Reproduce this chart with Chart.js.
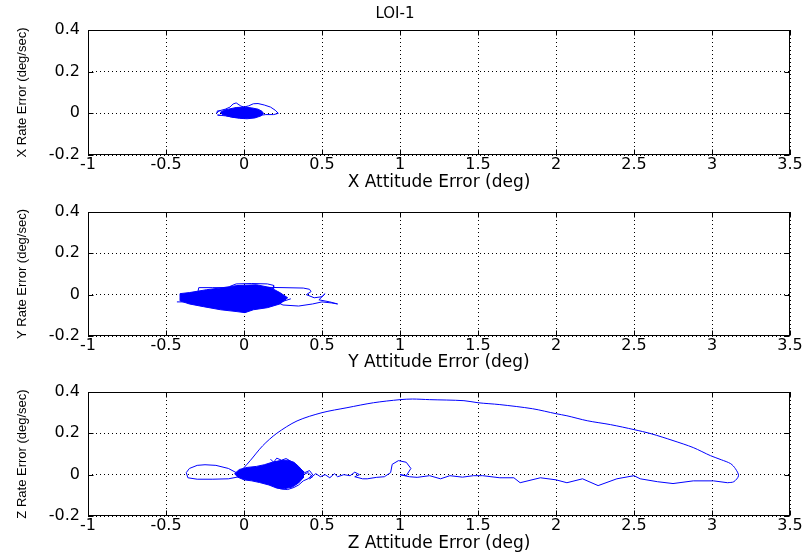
<!DOCTYPE html>
<html>
<head>
<meta charset="utf-8">
<script src="https://cdn.jsdelivr.net/npm/chart.js@4/dist/chart.umd.min.js"></script>
<style>
  html, body { margin: 0; padding: 0; background: #fff; }
  #wrap { position: relative; width: 806px; height: 553px; overflow: hidden; }
  canvas { position: absolute; left: 0; }
</style>
</head>
<body>
<div id="wrap">
  <canvas id="cx" width="806" height="192" style="top:0px"></canvas>
  <canvas id="cy" width="806" height="192" style="top:180px"></canvas>
  <canvas id="cz" width="806" height="193" style="top:360px"></canvas>
</div>
<script>
// ---------- Tick labels ----------
const attTicks = [-1, -0.5, 0, 0.5, 1, 1.5, 2, 2.5, 3, 3.5];
const rateTicks = [-0.2, 0, 0.2, 0.4];

// ---------- X axis phase plane ----------
const xBlobAtt  = [-0.15, -0.13, -0.10, -0.05, 0.00, 0.05, 0.09, 0.115, 0.125, 0.11, 0.07, 0.02, -0.03, -0.08, -0.12, -0.14, -0.15];
const xBlobRate = [0.005, 0.015, 0.02, 0.028, 0.03, 0.026, 0.02, 0.01, 0.0, -0.012, -0.022, -0.026, -0.024, -0.018, -0.01, -0.005, 0.005];
const xLoopAtt  = [-0.15, -0.17, -0.175, -0.16, -0.12, -0.09, -0.07, -0.05, -0.02, 0.00, 0.03, 0.06, 0.09, 0.13, 0.17, 0.20, 0.22, 0.19, 0.14, 0.10, 0.05, 0.0, -0.06, -0.12, -0.17, -0.15];
const xLoopRate = [0.012, 0.012, 0.0, 0.012, 0.02, 0.03, 0.045, 0.05, 0.035, 0.03, 0.036, 0.046, 0.047, 0.04, 0.03, 0.015, 0.0, -0.006, -0.006, -0.01, -0.015, -0.02, -0.02, -0.012, -0.008, -0.01];

// ---------- Y axis phase plane ----------
const yBlobAtt  = [-0.41, -0.35, -0.24, -0.135, -0.045, 0.08, 0.17, 0.23, 0.28, 0.23, 0.15, 0.06, 0.006, -0.045, -0.15, -0.26, -0.35, -0.41, -0.41];
const yBlobRate = [0.005, 0.01, 0.024, 0.034, 0.044, 0.048, 0.034, 0.01, -0.015, -0.045, -0.063, -0.073, -0.087, -0.082, -0.073, -0.058, -0.045, -0.03, 0.005];
const yOuterAtt  = [-0.43, -0.38, -0.30, -0.29, -0.20, -0.05, 0.10, 0.25, 0.38, 0.42, 0.43, 0.40, 0.45, 0.50, 0.52, 0.48, 0.55, 0.60, 0.56, 0.50, 0.44, 0.35, 0.25, 0.22, 0.30];
const yOuterRate = [-0.035, -0.035, -0.005, 0.034, 0.034, 0.034, 0.036, 0.034, 0.032, 0.026, 0.015, 0.0, -0.015, -0.01, 0.005, -0.025, -0.035, -0.045, -0.04, -0.035, -0.045, -0.055, -0.05, -0.04, -0.02];
const yArchAtt  = [-0.09, -0.05, 0.05, 0.15, 0.19, 0.19, 0.15];
const yArchRate = [0.04, 0.052, 0.054, 0.052, 0.045, 0.03, 0.02];

// ---------- Z axis phase plane ----------
const zBlobAtt  = [-0.06, -0.03, 0.02, 0.08, 0.13, 0.18, 0.23, 0.28, 0.32, 0.35, 0.38, 0.38, 0.35, 0.31, 0.26, 0.21, 0.16, 0.10, 0.05, 0.0, -0.04, -0.06];
const zBlobRate = [0.005, 0.025, 0.035, 0.04, 0.048, 0.06, 0.068, 0.07, 0.06, 0.04, 0.015, -0.015, -0.04, -0.06, -0.068, -0.065, -0.05, -0.038, -0.03, -0.025, -0.012, 0.005];
const zFringeAtt  = [0.17, 0.19, 0.21, 0.24, 0.27, 0.30, 0.33, 0.36, 0.39, 0.42, 0.44, 0.41, 0.38, 0.35, 0.32, 0.28, 0.24, 0.20];
const zFringeRate = [0.075, 0.06, 0.08, 0.07, 0.078, 0.065, 0.05, 0.03, 0.01, 0.02, 0.0, -0.02, -0.03, -0.05, -0.062, -0.072, -0.07, -0.06];
const zLeftAtt  = [-0.05, -0.10, -0.18, -0.25, -0.30, -0.35, -0.37, -0.36, -0.30, -0.20, -0.10, -0.03];
const zLeftRate = [0.01, 0.03, 0.045, 0.048, 0.045, 0.03, 0.01, -0.015, -0.022, -0.022, -0.02, -0.01];
const zTrailAtt  = [0.38, 0.41, 0.44, 0.42, 0.46, 0.49, 0.52, 0.55, 0.58, 0.60, 0.64, 0.68, 0.71, 0.74, 0.71, 0.76, 0.79, 0.85, 0.90, 0.94, 0.95, 0.99, 1.04, 1.07, 1.04, 1.00, 1.06, 1.11, 1.19, 1.26, 1.32, 1.40, 1.47, 1.53, 1.64, 1.73, 1.77, 1.90, 2.00, 2.07, 2.17, 2.27, 2.39, 2.50, 2.54, 2.65, 2.75, 2.88, 3.01, 3.10];
const zTrailRate = [0.0, 0.01, -0.01, -0.02, 0.005, -0.01, 0.0, -0.015, 0.005, -0.01, 0.0, -0.005, 0.012, 0.0, -0.01, -0.02, -0.02, -0.013, -0.01, 0.01, 0.05, 0.068, 0.06, 0.03, -0.005, 0.0, -0.01, -0.013, -0.005, -0.02, -0.005, -0.012, -0.005, -0.005, -0.015, -0.015, -0.039, -0.015, -0.025, -0.039, -0.02, -0.053, -0.02, -0.005, -0.02, -0.034, -0.043, -0.03, -0.03, -0.039];
const zArcAtt  = [3.10, 3.14, 3.17, 3.15, 3.12, 3.06, 2.99, 2.88, 2.75, 2.61, 2.50, 2.35, 2.20, 2.07, 2.00, 1.85, 1.64, 1.50, 1.41, 1.19, 1.08, 1.00, 0.83, 0.66, 0.50, 0.34, 0.21, 0.12, 0.04, -0.006];
const zArcRate = [-0.039, -0.034, -0.005, 0.029, 0.053, 0.072, 0.092, 0.131, 0.165, 0.198, 0.218, 0.242, 0.261, 0.285, 0.295, 0.319, 0.339, 0.348, 0.358, 0.363, 0.366, 0.363, 0.348, 0.324, 0.30, 0.26, 0.20, 0.14, 0.068, 0.029];

const BLUE = "#0000ff";
const TICK_FONT = { family: "'DejaVu Sans', sans-serif", size: 16 };

function pts(att, rate) { return att.map((a, i) => ({ x: a, y: rate[i] })); }

function line(att, rate, tension) {
  return { data: pts(att, rate), showLine: true, borderColor: BLUE, borderWidth: 1, pointRadius: 0, fill: false, tension: tension || 0 };
}
function blob(att, rate) {
  return { data: pts(att, rate), showLine: true, borderColor: BLUE, borderWidth: 1, pointRadius: 0, fill: "shape", backgroundColor: BLUE, tension: 0 };
}

// Box round the axes plus MATLAB-style inward tick marks on all four sides.
const frame = {
  id: "frame",
  afterDatasetsDraw(chart) {
    const { ctx, chartArea: a, scales: { x, y } } = chart;
    const L = Math.round(a.left) + 0.5, R = Math.round(a.right) - 0.5;
    const T = Math.round(a.top) + 0.5, B = Math.round(a.bottom) - 0.5;
    ctx.save();
    ctx.strokeStyle = "#000";
    ctx.lineWidth = 1;
    ctx.setLineDash([]);
    ctx.beginPath();
    x.ticks.forEach(t => {
      const px = Math.round(x.getPixelForValue(t.value)) + 0.5;
      ctx.moveTo(px, B); ctx.lineTo(px, B - 5);
      ctx.moveTo(px, T); ctx.lineTo(px, T + 5);
    });
    y.ticks.forEach(t => {
      const py = Math.round(y.getPixelForValue(t.value)) + 0.5;
      ctx.moveTo(L, py); ctx.lineTo(L + 5, py);
      ctx.moveTo(R, py); ctx.lineTo(R - 5, py);
    });
    ctx.stroke();
    ctx.strokeRect(L, T, R - L, B - T);
    ctx.restore();
  }
};

function makePanel(id, axisName, datasets, axisH, topPad, withTitle) {
  new Chart(document.getElementById(id), {
    type: "scatter",
    data: { datasets },
    plugins: [frame],
    options: {
      responsive: false, animation: false,
      layout: { padding: { left: 0, right: 16, top: topPad, bottom: 0 } },
      plugins: {
        legend: { display: false }, tooltip: { enabled: false },
        title: {
          display: withTitle, text: "LOI-1", color: "#000",
          font: { family: "'DejaVu Sans', sans-serif", size: 15, weight: "normal" },
          padding: { top: 5, bottom: 7 }
        }
      },
      scales: {
        x: {
          type: "linear", min: -1, max: 3.5,
          afterBuildTicks: s => { s.ticks = attTicks.map(v => ({ value: v })); },
          afterFit: s => { s.height = axisH; },
          grid: { color: "#000", drawTicks: false },
          border: { display: false, dash: [1, 3] },
          ticks: { color: "#000", font: TICK_FONT, padding: 0, maxRotation: 0, callback: v => String(v) },
          title: { display: true, text: axisName + " Attitude Error (deg)", color: "#000", font: { family: "'DejaVu Sans', sans-serif", size: 17 }, padding: { top: 0, bottom: -1 } }
        },
        y: {
          type: "linear", min: -0.2, max: 0.4,
          afterBuildTicks: s => { s.ticks = rateTicks.map(v => ({ value: v })); },
          afterFit: s => { s.width = 88; },
          grid: { color: "#000", drawTicks: false },
          border: { display: false, dash: [1, 3] },
          ticks: { color: "#000", font: TICK_FONT, padding: 8, callback: v => String(v) },
          title: { display: true, text: axisName + " Rate Error (deg/sec)", color: "#000", font: { family: "'Liberation Sans', Arial, sans-serif", size: 13 }, padding: { top: 15, bottom: 0 } }
        }
      }
    }
  });
}

makePanel("cx", "X", [blob(xBlobAtt, xBlobRate), line(xLoopAtt, xLoopRate)], 37, 0, true);
makePanel("cy", "Y", [blob(yBlobAtt, yBlobRate), line(yOuterAtt, yOuterRate), line(yArchAtt, yArchRate)], 36, 32, false);
makePanel("cz", "Z", [blob(zBlobAtt, zBlobRate), line(zFringeAtt, zFringeRate), line(zLeftAtt, zLeftRate), line(zTrailAtt, zTrailRate), line(zArcAtt, zArcRate, 0.3)], 37, 32, false);
</script>
</body>
</html>
